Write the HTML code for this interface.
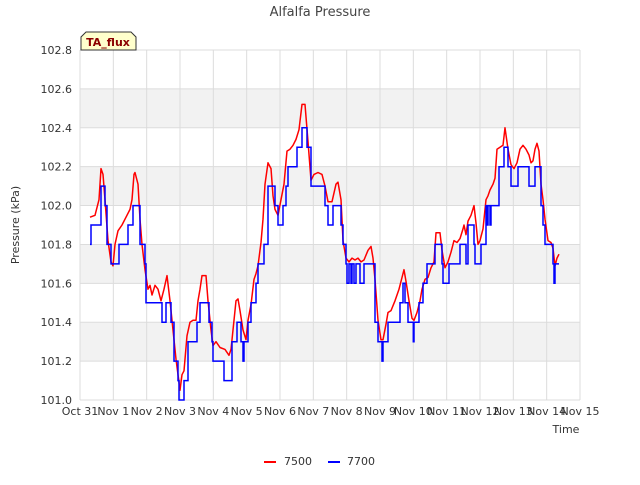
<!DOCTYPE html>
<html><head><meta charset="utf-8"><style>
body{margin:0;background:#fff;font-family:"Liberation Sans","DejaVu Sans",sans-serif}
svg text{font-family:"DejaVu Sans","Liberation Sans",sans-serif}
</style></head><body>
<svg id="c" width="640" height="480" xmlns="http://www.w3.org/2000/svg"></svg>
<script>
const xTickLabels=["Oct 31","Nov 1","Nov 2","Nov 3","Nov 4","Nov 5","Nov 6","Nov 7","Nov 8","Nov 9","Nov 10","Nov 11","Nov 12","Nov 13","Nov 14","Nov 15"];
const yTicks=[101.0,101.2,101.4,101.6,101.8,102.0,102.2,102.4,102.6,102.8];
const redDays=[0.30,0.45,0.57,0.63,0.69,0.75,0.84,0.93,0.99,1.05,1.14,1.26,1.38,1.50,1.56,1.62,1.65,1.74,1.80,1.86,1.95,2.04,2.10,2.16,2.25,2.34,2.43,2.52,2.61,2.70,2.79,2.88,2.94,3.00,3.06,3.12,3.21,3.30,3.39,3.48,3.54,3.60,3.66,3.78,3.84,3.93,3.99,4.08,4.20,4.35,4.47,4.53,4.62,4.68,4.74,4.80,4.89,4.98,5.04,5.13,5.22,5.28,5.34,5.43,5.49,5.55,5.64,5.73,5.79,5.85,5.94,6.03,6.12,6.21,6.30,6.39,6.48,6.57,6.66,6.75,6.84,6.93,7.02,7.14,7.26,7.35,7.44,7.56,7.68,7.74,7.83,7.89,7.98,8.07,8.16,8.25,8.34,8.43,8.52,8.64,8.73,8.79,8.85,8.94,9.03,9.09,9.18,9.24,9.33,9.45,9.57,9.66,9.72,9.78,9.87,9.96,10.02,10.11,10.20,10.26,10.35,10.44,10.53,10.62,10.68,10.80,10.86,10.95,11.04,11.13,11.22,11.31,11.40,11.49,11.52,11.58,11.64,11.73,11.82,11.88,11.94,12.00,12.09,12.18,12.24,12.30,12.39,12.45,12.51,12.60,12.69,12.75,12.84,12.93,13.02,13.11,13.20,13.29,13.38,13.47,13.53,13.59,13.65,13.71,13.77,13.83,13.89,13.95,14.04,14.13,14.19,14.25,14.31,14.37];
const redVals=[101.94,101.95,102.03,102.19,102.16,102.03,101.82,101.71,101.69,101.80,101.87,101.90,101.94,101.98,102.03,102.16,102.17,102.11,101.93,101.80,101.67,101.57,101.59,101.54,101.59,101.57,101.51,101.57,101.64,101.51,101.36,101.21,101.13,101.05,101.13,101.15,101.33,101.40,101.41,101.41,101.51,101.57,101.64,101.64,101.51,101.36,101.28,101.30,101.27,101.26,101.23,101.26,101.41,101.51,101.52,101.46,101.36,101.31,101.41,101.49,101.62,101.65,101.69,101.81,101.93,102.11,102.22,102.19,102.05,101.98,101.95,102.03,102.11,102.28,102.29,102.31,102.34,102.39,102.52,102.52,102.33,102.13,102.16,102.17,102.16,102.10,102.02,102.02,102.11,102.12,102.03,101.82,101.73,101.71,101.73,101.72,101.73,101.71,101.72,101.77,101.79,101.73,101.62,101.41,101.31,101.31,101.39,101.45,101.46,101.51,101.57,101.63,101.67,101.61,101.51,101.42,101.41,101.45,101.51,101.57,101.62,101.63,101.68,101.71,101.86,101.86,101.77,101.68,101.71,101.76,101.82,101.81,101.83,101.88,101.90,101.85,101.92,101.95,102.00,101.91,101.80,101.82,101.88,102.03,102.05,102.08,102.11,102.14,102.29,102.30,102.31,102.40,102.29,102.21,102.19,102.22,102.29,102.31,102.29,102.26,102.22,102.23,102.29,102.32,102.28,102.11,102.03,101.93,101.82,101.81,101.78,101.69,101.73,101.75];
const blueDays=[0.30,0.33,0.63,0.75,0.81,0.93,1.17,1.44,1.59,1.80,1.95,1.98,2.46,2.58,2.73,2.82,2.94,2.97,3.12,3.24,3.51,3.60,3.87,3.96,3.99,4.32,4.56,4.71,4.83,4.89,4.92,5.04,5.13,5.28,5.34,5.52,5.64,5.85,5.94,6.09,6.18,6.24,6.51,6.66,6.81,6.93,7.35,7.44,7.59,7.83,7.89,7.98,8.01,8.07,8.13,8.16,8.22,8.28,8.40,8.52,8.85,8.94,9.06,9.09,9.24,9.60,9.69,9.75,9.84,10.00,10.02,10.17,10.29,10.41,10.65,10.86,10.89,11.07,11.40,11.58,11.64,11.82,11.85,12.03,12.18,12.21,12.24,12.30,12.33,12.57,12.72,12.84,12.93,13.14,13.47,13.65,13.83,13.89,13.95,14.19,14.22,14.25,14.37];
const blueVals=[101.8,101.9,102.1,102.0,101.8,101.7,101.8,101.9,102.0,101.8,101.7,101.5,101.4,101.5,101.4,101.2,101.1,101.0,101.1,101.3,101.4,101.5,101.4,101.3,101.2,101.1,101.3,101.4,101.3,101.2,101.3,101.4,101.5,101.6,101.7,101.8,102.1,102.0,101.9,102.0,102.1,102.2,102.3,102.4,102.3,102.1,102.0,101.9,102.0,101.9,101.8,101.7,101.6,101.7,101.6,101.7,101.6,101.7,101.6,101.7,101.4,101.3,101.2,101.3,101.4,101.5,101.6,101.5,101.4,101.3,101.4,101.5,101.6,101.7,101.8,101.7,101.6,101.7,101.8,101.7,101.9,101.8,101.7,101.8,102.0,101.9,102.0,101.9,102.0,102.2,102.3,102.2,102.1,102.2,102.1,102.2,102.0,101.9,101.8,101.7,101.6,101.7,101.7];

const NS="http://www.w3.org/2000/svg";
const svg=document.getElementById('c');
const L=80,R=580,T=50,B=400,yMin=101.0,yMax=102.8,dMax=15;
const xS=d=>L+(R-L)*d/dMax;
const yS=v=>B-(B-T)*(v-yMin)/(yMax-yMin);
function mk(tag,attrs,parent){const e=document.createElementNS(NS,tag);for(const k in attrs)e.setAttribute(k,attrs[k]);(parent||svg).appendChild(e);return e;}

// bands
for(let i=0;i<yTicks.length-1;i++){
  if(i%2===1){
    const b=mk('rect',{x:L,y:yS(yTicks[i+1]),width:R-L,height:yS(yTicks[i])-yS(yTicks[i+1]),fill:'#f2f2f2'});
    
    
  }
}
// y grid + labels
yTicks.forEach(v=>{
  const g=mk('line',{x1:L,x2:R,y1:yS(v),y2:yS(v),stroke:'#dcdcdc','stroke-width':1});
  
  
  const t=mk('text',{x:L-8,y:yS(v)+4,'text-anchor':'end','font-size':11,fill:'#333'});
  t.textContent=v.toFixed(1);
  
  
});
// x grid + labels
xTickLabels.forEach((s,i)=>{
  const g=mk('line',{x1:xS(i),x2:xS(i),y1:T,y2:B,stroke:'#dcdcdc','stroke-width':1});
  
  
  const t=mk('text',{x:xS(i),y:B+15,'text-anchor':'middle','font-size':11,fill:'#333'});
  t.textContent=s;
  
  
});
// series
function path(days,vals,step){
  let d='';
  for(let i=0;i<days.length;i++){
    const x=xS(days[i]).toFixed(1),y=yS(vals[i]).toFixed(1);
    if(i===0)d+='M'+x+','+y;
    else if(step)d+='H'+x+'V'+y;
    else d+='L'+x+','+y;
  }
  return d;
}
const rp=mk('path',{d:path(redDays,redVals,false),fill:'none',stroke:'#ff0000','stroke-width':1.5,'stroke-linejoin':'round'});


const bp=mk('path',{d:path(blueDays,blueVals,true),fill:'none',stroke:'#0000ff','stroke-width':1.5});


</script>
<svg width="640" height="480" style="position:absolute;left:0;top:0" xmlns="http://www.w3.org/2000/svg">
<text x="320" y="16" text-anchor="middle" font-size="13" fill="#444">Alfalfa Pressure</text>
<text x="19" y="225" text-anchor="middle" font-size="11" fill="#333" transform="rotate(-90 19 225)">Pressure (kPa)</text>
<text x="566" y="433" text-anchor="middle" font-size="11" fill="#333">Time</text>
<path d="M81,50 V37 L86,32 H131 L136,37 V50 Z" fill="#ffffcc" stroke="#333" stroke-width="1"/>
<text x="108" y="46" text-anchor="middle" font-size="11" font-weight="bold" fill="#8b0000">TA_flux</text>
<line x1="264" x2="276" y1="462" y2="462" stroke="#ff0000" stroke-width="2"/>
<text x="284" y="465" font-size="11" fill="#333">7500</text>
<line x1="328" x2="340" y1="462" y2="462" stroke="#0000ff" stroke-width="2"/>
<text x="347" y="465" font-size="11" fill="#333">7700</text>
</svg>
</body></html>
